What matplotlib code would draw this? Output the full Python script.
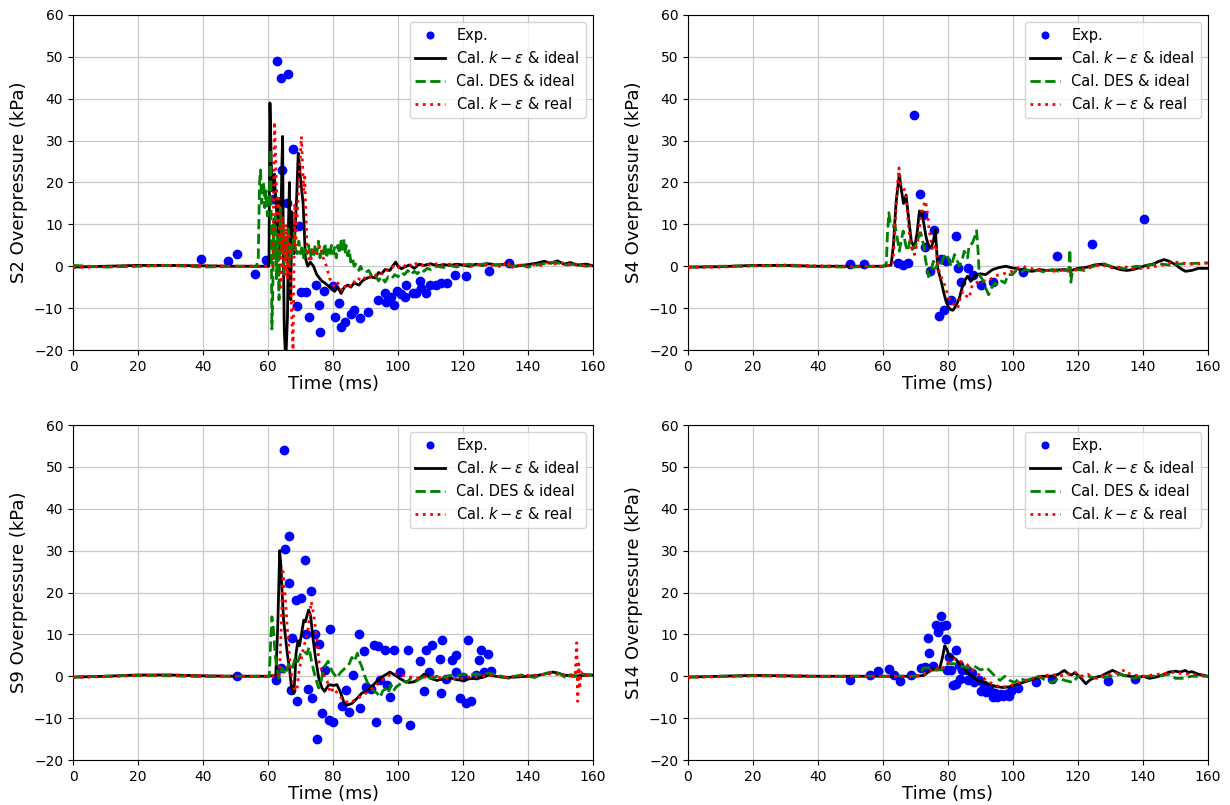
import matplotlib
matplotlib.use("Agg")
import matplotlib.pyplot as plt

# ---------------- data ----------------
x_ticks = [0, 20, 40, 60, 80, 100, 120, 140, 160]
y_ticks = [-20, -10, 0, 10, 20, 30, 40, 50, 60]
panel_names = ["S2", "S4", "S9", "S14"]
labels = ["Exp.", r"Cal. $k-\varepsilon$ & ideal", "Cal. DES & ideal", r"Cal. $k-\varepsilon$ & real"]

# S2
s2_exp = [(39.5,1.7),(47.7,1.2),(50.6,2.9),(55.9,-1.8),(59.5,1.6),(61.5,16),(62.9,11),(62.9,49),(63.9,45),
          (64.4,23),(65.9,15),(66.2,46),(67.8,28),(69.5,9.5),(69.0,-9.4),(70.3,-6.2),(71.6,-6.2),(72.7,-12.2),
          (74.8,-4.5),(75.9,-15.6),(75.7,-9.2),(77.1,-5.8),(80.0,-4.8),(80.5,-12.2),(81.9,-8.8),(82.6,-14.4),
          (83.8,-13.2),(85.4,-11.4),(86.6,-10.5),(88.4,-12.3),(90.8,-10.9),(93.8,-8),(95.9,-6.4),(96.4,-8.6),
          (97.9,-7.4),(98.7,-9.2),(99.8,-5.8),(100.8,-6.6),(102.0,-7.4),(102.6,-4.5),(104.6,-6.4),(105.6,-6.4),
          (106.7,-3.6),(107.2,-5.2),(108.7,-6.4),(109.7,-4.5),(111.8,-4.4),(113.3,-4),(115.2,-4),(117.4,-2.2),
          (120.8,-2.4),(128.1,-1.1),(134.2,0.7)]
s2_ke_ideal = [(0,-0.2),(10,0),(20,0.2),(30,0.2),(40,0.1),(50,0),(56,0),(60.3,0),(60.6,39),(61.0,25),(61.3,18),
               (61.7,20),(62.0,22),(62.3,17),(62.6,14),(63.0,8),(63.3,16),(63.7,4),(64.0,12),(64.3,25),(64.5,31),
               (64.7,5),(65.0,-15),(65.3,-20),(65.6,-20),(66.0,-12),(66.3,10),(66.6,20),(66.8,5),(67.0,-8),
               (67.3,13),(67.6,8),(68.0,3),(68.4,10),(68.8,16),(69.3,27),(69.7,24),(70.0,21),(70.4,18),(70.8,15),
               (71.2,8),(71.5,2),(72.2,0),(73.0,1),(74.0,0),(75.0,-2),(76.5,-3.5),(77.5,-4),(79.0,-5),(80.5,-6),
               (81.5,-5),(82.5,-6.5),(83.5,-5),(84.5,-4.5),(85.5,-5),(86.5,-4),(88,-4.5),(89,-3.5),(90,-3),
               (91.5,-2.5),(93,-2.8),(94,-1.5),(95,-1.8),(96,-0.8),(97.5,-1),(98.5,0.2),(99.3,1),(100,0),
               (101,-0.6),(102,-0.2),(103.5,0.3),(105,-0.5),(106.5,0.5),(108,0.2),(110,0.6),(112,0.1),(114,0.4),
               (116,0.2),(118,0.5),(120,0.3),(122,0),(124,0.5),(126,0.2),(128,0.6),(130,0.3),(133,0.5),(136,0),
               (140,0.4),(143,0.8),(145,1.2),(147,0.7),(149,1.3),(151,0.5),(153,0.9),(155,0.3),(158,0.5),(160,0.1)]
s2_des_ideal = [(0,0.2),(10,-0.2),(20,0),(30,0.2),(40,-0.2),(50,0),(56.5,0),(57.0,2),(57.4,20),(57.7,23),(58.0,15),
                (58.3,17),(58.7,20),(59.0,14),(59.4,18),(59.8,12),(60.2,16),(60.5,20),(60.8,28),(61.0,8),(61.2,-15),
                (61.5,-5),(61.7,10),(62.0,2),(62.3,12),(62.6,-3),(63.0,8),(63.4,-8),(63.8,14),(64.2,3),(64.6,10),
                (65.0,-2),(65.4,7),(65.8,2),(66.2,9),(66.6,0),(67.0,5),(67.5,3),(68.0,8),(68.5,4),(69.0,3),(69.5,6),
                (70.0,3),(70.5,5),(71.0,2),(71.5,4),(72,3),(72.5,5),(73,2),(73.5,4),(74,2.5),(74.5,5),(75,3),(75.5,6),
                (76,2),(76.5,4),(77,3),(77.5,5.5),(78,2),(78.5,4),(79,2.5),(79.5,5),(80,3),(80.5,4.5),(81,2),(81.5,5),
                (82,3),(82.5,6),(83,4),(83.3,6.5),(83.7,3),(84,5),(84.5,2.5),(85,4),(85.5,1),(86,2),(86.5,0),(87,0.5),
                (88,-1),(88.5,0),(89,-0.8),(90,-1.5),(91,-1),(92,-2.5),(93,-2),(94,-3.5),(95,-2.5),(96,-3.8),(97,-2.5),
                (98,-3),(99,-2),(100,-2.5),(101,-1.5),(102,-2),(103,-1),(104,-2),(105,-1.2),(106,-1.8),(107,-0.8),
                (108,-1.2),(109,-0.5),(110,-0.8),(112,0),(114,-0.3),(116,0.2),(118,-0.2),(120,0.3),(122,0.5),(124,0.2),
                (126,0.5),(128,0.8),(130,0.3),(132,0.5),(134,0.2),(136,0),(138,0.3),(140,-0.2),(142,0.2),(144,0.5),
                (146,0.8),(148,1),(150,0.6),(152,0.3),(154,0.5),(156,0.2),(158,0),(160,0.2)]
s2_ke_real = [(0,-0.3),(10,-0.1),(20,0.1),(30,0.2),(40,0.1),(50,0),(58,0),(61.5,0),(61.8,20),(62.0,34.5),(62.3,28),
              (62.5,22),(62.8,14),(63.0,10),(63.3,17),(63.6,6),(64.0,-5),(64.3,5),(64.5,12),(64.8,3),(65.0,5),
              (65.3,-2),(65.5,10),(65.8,2),(66.0,-3),(66.3,6),(66.5,8),(66.8,-2),(67.0,-5),(67.3,-12),(67.7,-20),
              (68.0,0),(68.2,15),(68.5,5),(69.0,12),(69.5,20),(70.0,27),(70.3,31),(70.6,25),(71.0,18),(71.3,22),
              (71.6,14),(72.0,5),(72.5,2),(73.0,1),(74.0,4),(75.0,3),(76.0,5),(77.0,2),(78.0,0),(79.0,-3),(80.5,-5),
              (81.5,-4),(82.5,-5.5),(83.0,-6),(84.0,-4.5),(85,-5),(86,-3.5),(87,-4),(88,-3),(89,-3.5),(90,-2.5),
              (91,-3),(92,-2),(93,-2.2),(94,-1.5),(95,-1.8),(96,-0.8),(97,-1),(98,-0.3),(99,0.2),(100,-0.3),
              (101,0.5),(102,0),(103,0.6),(104,0.2),(105,1),(106,0.3),(107,0.5),(108,0),(109,0.5),(110,0.2),
              (112,0.6),(113,0),(114,0.3),(116,0.5),(118,0.2),(120,0.4),(122,-0.1),(124,0.3),(126,0.5),(128,0),
              (130,0.4),(132,-0.3),(133,0.8),(134,1.2),(134.5,-0.5),(136,0.1),(138,0.3),(140,0),(142,0.4),(144,0.2),
              (146,0.8),(148,0.5),(150,1),(152,0.4),(154,0.7),(156,0.2),(158,0.3),(160,0)]

# S4
s4_exp = [(49.8,0.5),(54.2,0.5),(64.5,0.8),(66.1,0.4),(67.8,0.7),(69.5,36.1),(71.3,17.3),(72.3,12.3),(73.0,4.5),
          (74.6,-1.2),(75.8,8.6),(77.1,-11.9),(77.8,1.7),(78.8,-10.4),(79.5,1.3),(80.9,-8),(82.4,7.2),(83.1,-0.4),
          (84.1,-3.8),(86.3,-0.4),(87.6,-2),(90.1,-4.4),(93.9,-3.8),(103.2,-1.4),(113.5,2.4),(124.3,5.3),(140.2,11.4)]
s4_ke_ideal = [(0,-0.2),(10,-0.1),(20,0.2),(30,0.2),(40,0),(50,0),(60,0),(62.5,0.3),(63.2,5),(64.0,15),(65.0,22),
               (65.5,19),(66.3,15),(67.1,17),(67.8,12),(68.7,6),(69.7,4.4),(70.5,8),(71.2,13.2),(72.0,12.5),
               (72.6,10),(73.3,6.8),(74.0,5),(74.8,4.4),(75.5,6),(76.1,8.8),(76.5,4),(76.8,-0.4),(77.9,-3.6),
               (78.6,-6),(79.4,-8.4),(80.2,-9.8),(80.9,-10.4),(81.5,-10.5),(82.0,-10),(82.7,-9),(83.5,-7.6),
               (84.2,-5.5),(85,-3.6),(86,-2.4),(87,-3.6),(88.6,-2),(90,-1.8),(91.6,-2),(93.7,-0.8),(95.7,-0.3),
               (97.8,0),(99.8,-0.4),(101,-0.5),(103,-1),(106,-1.2),(108,-0.8),(110,-1),(113,-0.9),(116,-0.8),
               (118,-1),(120,-0.5),(123,-0.2),(125,0.3),(127,0.5),(129,0.2),(131,-0.3),(133,-0.8),(135,-1),
               (137,-0.8),(139,-0.3),(141,0.2),(143,0.5),(145,1.2),(146.5,1.6),(148,1.2),(150,0.4),(151.5,-0.5),
               (153,-1.2),(155,-1),(157,-0.5),(160,-0.5)]
s4_des_ideal = [(0,-0.2),(10,0),(20,0.1),(30,0.1),(40,-0.1),(50,-0.2),(60,0),(61.0,0.5),(61.4,8),(61.8,12.8),
                (62.3,10),(63.0,9.5),(63.6,10),(64.3,7.2),(65,3.6),(65.6,6),(66.2,8.4),(67,5),(67.5,3.6),(68.3,6),
                (69,4),(70,5),(71,7),(71.6,8),(72.5,5),(73,2),(74,-2.5),(74.8,-1),(75.5,1.2),(76.2,-0.5),(77,1),
                (77.8,0),(78.5,2),(79.5,3),(80.5,1),(81,0),(82,2.8),(82.5,2),(83.5,0),(84.5,2),(85,3.6),(86,2),
                (86.5,5),(87.5,5.5),(88.2,7),(88.8,8.5),(89.3,3),(89.6,-2),(90.5,-3),(91.6,-5.2),(92.5,-6.8),
                (93.5,-5),(94.5,-4),(95.5,-4.5),(96.5,-3.5),(97.5,-4),(98.5,-2),(99.8,-2),(101,-1),(102,-1.5),
                (104,-0.8),(106,-1.2),(108,-1),(110,-1.5),(112,-0.8),(114,-1.2),(116,-1),(117.2,-1),(117.5,4),
                (117.8,-3.8),(118.3,-1),(120,-0.8),(122,-1),(124,-0.2),(126,0.3),(128,0.6),(130,0),(132,-0.2),
                (134,-0.6),(136,-0.3),(138,0),(140,-0.2),(142,0.3),(145,0.6),(148,0.3),(150,0.5),(153,0.6),
                (156,0.7),(160,0.8)]
s4_ke_real = [(0,-0.3),(10,-0.2),(20,0.1),(30,0.3),(40,0.1),(50,0),(60,0),(63.0,0.3),(63.6,8),(64.3,18),(64.9,23.5),
              (65.5,19.6),(66.3,19),(67.1,16.8),(67.8,10),(68.5,5),(69.7,2.8),(70.7,6),(71.5,11),(72.2,14),
              (73.1,15.6),(73.8,12),(74.1,9.2),(75.3,3.6),(76.3,5.2),(77.0,0),(77.5,-2),(78.5,-3.5),(79.2,-5),
              (79.9,-6.8),(80.9,-8.5),(81.9,-9.2),(83.0,-10),(83.8,-7.5),(84.5,-6),(85.5,-7),(86.5,-7.6),
              (87.5,-4.4),(88.5,-4),(89.6,-3.6),(91,-3.5),(92.7,-3.3),(94,-2.5),(95.7,-2),(97,-1.8),(99.8,-1.2),
              (101,-0.5),(103,0),(105,-0.5),(108,-0.8),(110,-1),(113,-1.2),(115,-1),(117,-1.2),(120,-0.8),
              (122,-0.5),(125,0),(127,0.3),(129,0),(131,-0.5),(133,-0.3),(135,-0.2),(137,-0.6),(140,-0.5),
              (142,-0.3),(144,0),(146,0.3),(148,0.8),(150,1),(152,0.8),(155,0.5),(158,0.6),(160,0.8)]

# S9
s9_exp = [(50.6,0),(62.6,-0.8),(64.0,2),(64.8,54),(65.2,30.3),(66.5,33.5),(66.5,22.3),(67.5,9.2),(67.2,-3.2),
          (68.5,18.2),(69.0,-5.8),(70.0,18.6),(71.3,27.7),(71.6,10),(72.3,-3),(73.1,20.4),(73.5,-5.1),(74.4,10),
          (75.7,7.6),(76.7,-8.8),(77.4,1.4),(75.1,-15),(78.8,-10.5),(80.0,-10.9),(79.2,11.2),(82.9,-7),(84.1,-3.2),
          (84.9,-8.6),(86.2,0.2),(87.9,10),(88.2,-7.6),(89.5,6),(90.3,-2.5),(91.8,-3),(92.6,7.4),(93.1,-11),
          (93.8,7.3),(94.4,-1),(95.9,6.2),(96.7,-2.2),(97.4,-4.9),(98.7,6.2),(99.8,-10.1),(100.5,1),(103.1,6.2),
          (103.8,-11.7),(106.7,3.6),(107.9,-3.5),(108.5,6.2),(109.5,0.9),(110.6,7.4),(112.8,4.2),(113.1,-3.9),
          (113.6,8.6),(114.9,-0.6),(116.7,4),(117.7,5),(117.7,0.9),(119.0,-5.1),(120.0,-0.2),(121.0,-6.5),
          (121.6,8.6),(122.4,-5.9),(123.9,0.2),(124.8,4),(125.4,6.2),(126.5,0.9),(127.7,5.2),(128.7,1.2)]
s9_ke_ideal = [(0,-0.2),(10,0),(20,0.3),(30,0.3),(40,0.1),(50,0),(60,0),(62.4,0.2),(63.0,12),(63.6,30),(64.0,26),
               (64.4,19),(64.8,13.4),(65.5,8.5),(66.0,5),(66.6,2),(67.0,-1),(67.4,-3.6),(67.9,-4.1),(68.3,0),
               (68.6,5.3),(69.2,8.5),(69.7,7.3),(70.3,10),(71.0,13.4),(71.5,13),(72.0,14.5),(72.5,15.8),(73.1,14.5),
               (73.7,10),(74.6,4.5),(75.6,-0.4),(76.6,-2.8),(77.4,-3.6),(78.7,-2),(80.2,-2.2),(81.2,-2),(82.2,-3.6),
               (83.3,-6.1),(84.3,-6.9),(85.8,-6.5),(87.4,-5.3),(88.9,-4),(90.4,-3.6),(92,-2.4),(93.5,-1.2),
               (95,-0.2),(96.5,0.5),(97.5,1),(99,0.3),(100.5,-0.5),(102,-1.2),(103.5,-1.5),(105,-1.3),(106.5,-0.6),
               (108,0.5),(109,0.2),(110,-0.5),(112,-1),(114,-0.6),(116,-0.4),(118,-0.8),(120,-1),(122,-0.6),
               (124,-0.5),(126,-0.3),(128,0.3),(130,0),(133,-0.3),(136,-0.2),(140,0),(143,0.2),(145,0.5),
               (147.5,1),(149,0.8),(151,0.3),(154,0),(157,0.2),(160,0.3)]
s9_des_ideal = [(0,-0.2),(10,0),(20,0.2),(30,0.1),(40,-0.1),(50,0),(60.4,0),(60.8,8),(61.2,14.2),(61.7,11),(62.2,5),
                (62.6,2.8),(63.3,-0.4),(64.3,2),(65.3,0.4),(66.3,2.8),(67.4,1.6),(68.4,4.5),(69.2,3.5),(70.0,5.3),
                (71.0,6),(72.0,5.3),(72.6,6.9),(73.6,2.8),(74.6,-0.4),(75.6,-2.8),(76.4,-1),(77.1,2),(78.5,3.6),
                (79.7,1.2),(81.2,-0.4),(82.2,0.8),(83.8,2),(85.0,3),(85.8,4.5),(86.6,3.6),(87.5,5.5),(88.2,3.5),
                (89.0,2),(89.8,0),(90.6,-1.5),(91.5,-2.5),(92.5,-3.5),(93.5,-4),(94.5,-5),(95.3,-3.5),(96.2,-3),
                (97,-4),(97.8,-2),(98.6,-3.5),(99.5,-2.5),(100.5,-2),(101.5,-1),(102.5,-1.5),(104,-0.5),
                (105.5,-1.2),(107,-0.5),(108.5,0),(110,-0.5),(112,0),(114,-0.3),(116,0.2),(118,0),(120,0.5),
                (122,0.2),(124,0.6),(126,0.3),(128,0.8),(130,0.3),(132,0),(134,-0.5),(136,0),(138,0.3),(140,0),
                (142,-0.3),(144,0.3),(146,0.8),(148,1),(150,0.5),(152,-0.6),(153,0.4),(155,0),(157,0.5),(160,0.3)]
s9_ke_real = [(0,-0.3),(10,-0.1),(20,0.2),(30,0.3),(40,0.1),(50,0),(60,0),(63.5,0.2),(64.0,10),(64.6,25),(65.3,19),
              (66.2,8.5),(66.8,3),(67.3,0),(67.9,-2.8),(68.9,-3.5),(69.4,0.5),(70.5,5.3),(71.5,8.5),(72.3,11),
              (73.3,17.8),(74.0,15),(75.1,8.5),(75.8,2.8),(77.1,0.4),(78.2,-1.2),(79.2,-4),(80.2,-2.8),(81.7,-4.5),
              (83.8,-6),(85.3,-6.4),(87.4,-5.3),(89.4,-4.5),(91.4,-3.3),(93.5,-2),(95,-1),(96.5,0),(98,0.5),
              (100,0.5),(101.5,0.2),(103,0),(105,-0.5),(107,-0.3),(110,0),(112,-0.3),(115,-0.5),(118,-0.6),
              (120,-0.5),(122,-0.2),(125,0),(128,0.2),(130,0),(133,-0.2),(136,0),(140,0.2),(143,0.3),(146,0.6),
              (148,0.5),(150,0.4),(152,0.2),(154.5,0),(155.0,8),(155.3,-6),(155.6,3),(155.9,-3),(156.3,1),
              (157,0),(158,0.2),(160,0)]

# S14
s14_exp = [(49.9,-0.8),(56.0,0.2),(58.6,1.2),(61.7,1.7),(63.4,0.4),(65.3,-1.1),(68.7,0.2),(71.6,2),(72.9,2.1),
           (73.7,9.2),(74.2,5.6),(75.4,2.4),(76.2,12.2),(76.8,10.6),(77.8,14.4),(78.3,12),(79.3,12.2),(79.3,8.8),
           (79.8,1.6),(80.3,4.5),(80.9,1.4),(81.4,-2),(82.4,-1.8),(82.6,6.2),(83.4,2.8),(83.7,-0.6),(84.3,1.6),
           (85.8,1.6),(86.0,-1),(87.3,0.8),(88.0,-1.4),(89.4,-0.8),(90.1,-3.6),(91.1,-2.2),(91.8,-3.7),(92.7,-2.9),
           (93.7,-4.9),(94.5,-4),(95.2,-4.9),(96.3,-4.3),(97.0,-4.8),(97.8,-4.3),(98.8,-4.8),(99.3,-3.6),
           (101.4,-2.7),(107.0,-1.4),(112.0,-0.6),(129.1,-1.2),(137.6,-0.6)]
s14_ke_ideal = [(0,-0.2),(10,0),(20,0.2),(30,0.1),(40,0),(50,0),(60,0),(70,0),(72.5,0.2),(74,1),(75.5,1.8),
                (76.5,1.5),(77.5,2),(78.3,4.5),(79.0,7.3),(79.6,6.5),(80.3,5),(81.5,4.5),(82.5,4),(83.5,3),
                (84.5,2.5),(86,1),(87.5,0),(89,-1),(91,-1.5),(93,-2),(95,-2.5),(97,-2.7),(99,-2.5),(101,-2),
                (103,-1.5),(105,-1),(107,-0.5),(109,0),(112,0),(114,0.5),(115.8,1.4),(117,0.6),(118,0.3),(119,0.8),
                (120,0.2),(121,-0.5),(122.4,-1.8),(123.5,-1),(125,-0.3),(127,0),(128.5,0.6),(130.6,1.4),(132,0.9),
                (134,0.2),(136,0),(138,-0.4),(140,0),(142,-0.5),(144,-0.2),(146,0.3),(148,1),(150,1.2),(151.5,1),
                (153,1.4),(154,0.9),(155,1.1),(157,0.5),(160,0)]
s14_des_ideal = [(0,-0.2),(10,0),(20,0.1),(30,0),(40,-0.1),(50,0),(60,0),(70,0),(71,0.3),(72.5,2),(74,2),(76,1.5),
                 (78,1.5),(80,3),(82,3),(84,2.5),(86,2),(88,2.5),(90,1.5),(92,2),(94.5,0),(96,-1),(97.5,0),(99,-1),
                 (100.5,-1.5),(102,-0.5),(104,-1),(106,-0.5),(108,0),(110,-1),(112,-1.5),(114,-0.5),(116,-1),
                 (118.5,-1.5),(120,0),(123,0),(126,-0.5),(130,0),(133,0.5),(135,0),(137,-0.5),(140,0),(145,0),
                 (148,0.5),(150,-0.5),(152,-0.5),(155,0),(160,0)]
s14_ke_real = [(0,-0.3),(10,-0.1),(20,0.1),(30,0.2),(40,0),(50,0),(60,0),(70,0),(72,0.2),(74,1),(76,2),(78,1.5),
               (79.5,3),(81,4),(82.5,4.2),(84,3.5),(85.5,3),(87,2),(88.5,1),(90,0),(92,-1),(94,-2),(96,-2.5),
               (98,-2.5),(100,-2),(102,-1.5),(104,-1),(106,-0.5),(109,0),(112,0.5),(114,0),(117,0.5),(119,1),
               (121,0),(123,0.5),(125,-0.5),(127,0),(130,0.5),(132,0.8),(134.5,1.5),(136,0.5),(138,0.2),(140,0),
               (143,0.3),(145,0.5),(148,0.8),(150,1),(152,0.6),(155,0.5),(157,0.3),(160,0)]

panels = [
    ("S2", s2_exp, s2_ke_ideal, s2_des_ideal, s2_ke_real),
    ("S4", s4_exp, s4_ke_ideal, s4_des_ideal, s4_ke_real),
    ("S9", s9_exp, s9_ke_ideal, s9_des_ideal, s9_ke_real),
    ("S14", s14_exp, s14_ke_ideal, s14_des_ideal, s14_ke_real),
]

# ---------------- figure ----------------
fig = plt.figure(figsize=(12.3, 8.05), dpi=100)
rects = [
    [73/1230, 1-350/805, 520/1230, 335/805],
    [688/1230, 1-350/805, 520/1230, 335/805],
    [73/1230, 1-760/805, 520/1230, 335/805],
    [688/1230, 1-760/805, 520/1230, 335/805],
]

def unz(pairs):
    return [p[0] for p in pairs], [p[1] for p in pairs]

for rect, (name, exp, ke_i, des_i, ke_r) in zip(rects, panels):
    ax = fig.add_axes(rect)
    ex, ey = unz(exp)
    ax.plot(ex, ey, 'o', color='#0000ff', markersize=6, linestyle='none', label=labels[0], zorder=2)
    t, v = unz(ke_i)
    ax.plot(t, v, '-', color='black', lw=2.0, label=labels[1], zorder=3)
    t, v = unz(des_i)
    ax.plot(t, v, '--', color='green', lw=2.0, label=labels[2], zorder=3)
    t, v = unz(ke_r)
    ax.plot(t, v, ':', color='red', lw=2.0, label=labels[3], zorder=4)
    ax.set_xlim(0, 160)
    ax.set_ylim(-20, 60)
    ax.set_xticks(x_ticks)
    ax.set_yticks(y_ticks)
    ax.tick_params(labelsize=10)
    ax.grid(True, color='#c8c8c8', lw=0.9)
    ax.set_axisbelow(True)
    ax.set_xlabel("Time (ms)", fontsize=13, labelpad=1)
    ax.set_ylabel(name + " Overpressure (kPa)", fontsize=13)
    ax.legend(loc='upper right', fontsize=10.5, framealpha=0.8, markerscale=0.8)

fig.savefig("out.png", dpi=100)
